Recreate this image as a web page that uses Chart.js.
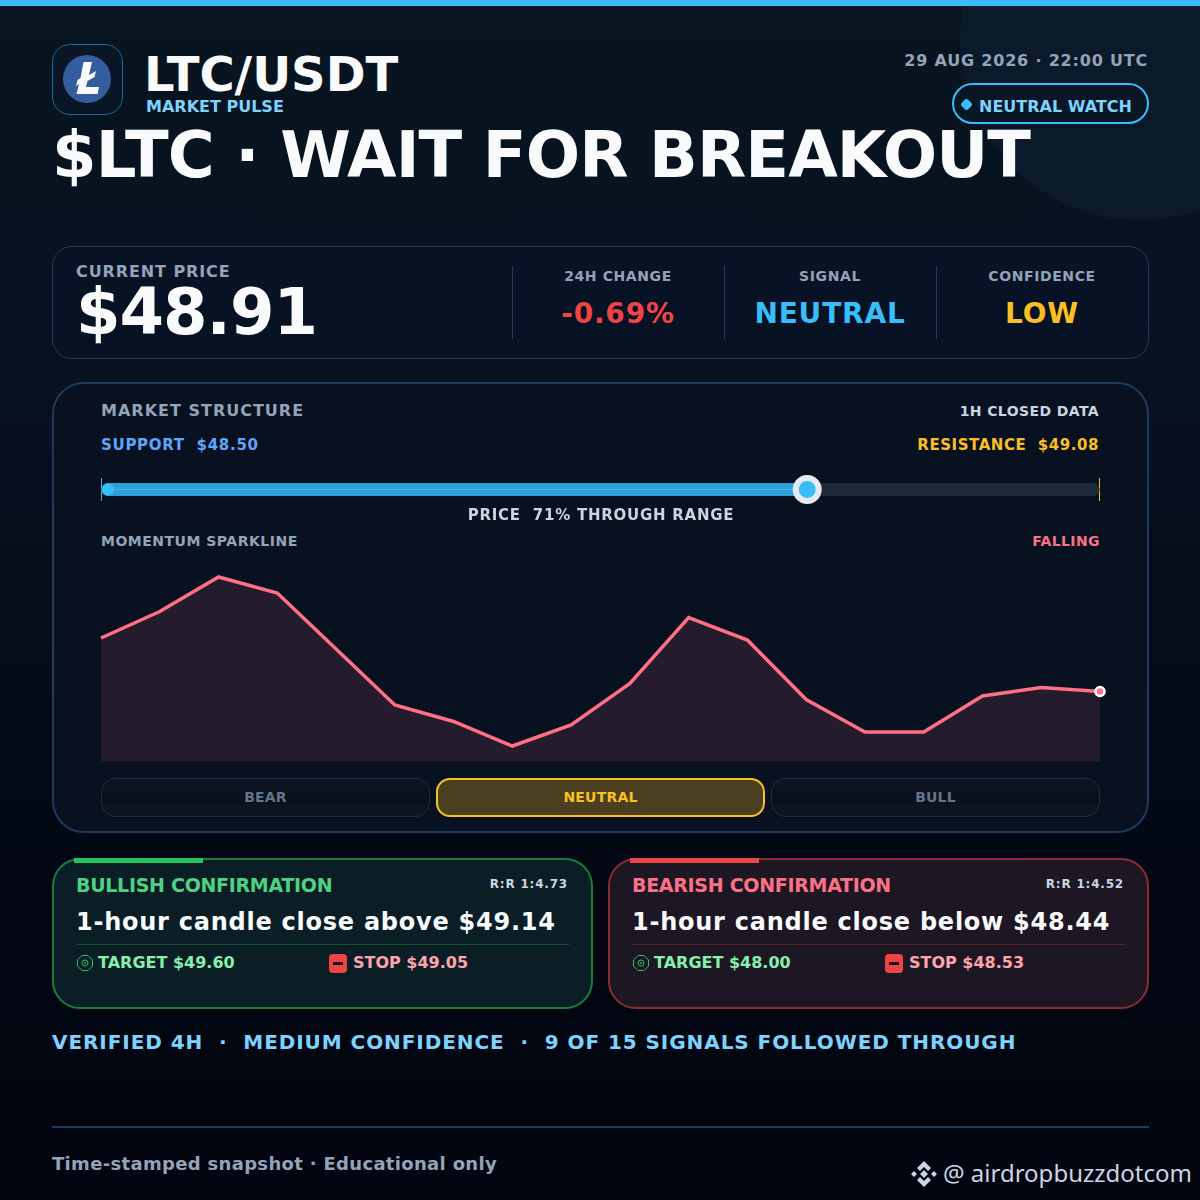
<!DOCTYPE html>
<html>
<head>
<meta charset="utf-8">
<title>LTC/USDT</title>
<script src="https://cdn.jsdelivr.net/npm/chart.js@4/dist/chart.umd.min.js"></script>
<style>
* { box-sizing: border-box; }
html, body { margin: 0; padding: 0; background: #02050f; }
#page { position: relative; width: 1200px; height: 1200px; overflow: hidden; font-family: "DejaVu Sans", sans-serif; font-weight: 700;
  background: linear-gradient(180deg, #081420 0%, #071220 30%, #030815 68%, #02050f 100%); }
#page > div, #page > canvas, .card > div { position: absolute; }
.t { white-space: pre; line-height: 1; }
.r { text-align: right; }
.c { text-align: center; transform: translateX(-50%); }
#topbar { left: 0; top: 0; width: 1200px; height: 6px; background: #38bdf8; }
#glow { left: 960px; top: -140px; width: 360px; height: 360px; border-radius: 50%; background: #0a1a2a; }
#logo { left: 52px; top: 44px; width: 71px; height: 71px; border-radius: 18px; border: 1px solid #1a6aa0; background: #0a1626; }
#coin { left: 63px; top: 55px; width: 48px; height: 48px; border-radius: 50%; background: #345d9d; }
#pill { left: 952px; top: 83px; width: 197px; height: 41px; border-radius: 21px; border: 2px solid #38bdf8; background: #081626; }
#pilldot { left: 962px; top: 100px; width: 9px; height: 9px; border-radius: 2px; background: #38bdf8; transform: rotate(45deg); }
.panel { border: 1px solid #1e3a5f; background: #071224; }
.sep { width: 1px; background: #1e3a5f; }
.btn { top: 778px; width: 329px; height: 39px; border-radius: 14px; border: 1px solid #1e293b; color: #64748b; font-size: 14px; letter-spacing: .2px; text-align: center; line-height: 37px;
  background: linear-gradient(180deg, #0e1322 0 33%, #0a101c 33% 67%, #0e1322 67%); }
.btn.on { border: 2px solid #fbbf24; background: #4a4020; color: #fbbf24; line-height: 35px; }
.card { top: 858px; width: 541px; height: 151px; border-radius: 28px; border: 2px solid; }
.accent { top: 858px; width: 129px; height: 5px; }
.target-i { width: 16px; height: 16px; top: 955px; }
.stop-i { width: 18px; height: 19px; top: 954px; background: #ef4444; border-radius: 4px; }
.stop-i::after { content: ""; position: absolute; left: 4px; top: 8px; width: 10px; height: 3px; background: #1a1020; }
</style>
</head>
<body>
<div id="page">
  <div id="glow"></div>
  <div id="topbar"></div>

  <div id="logo"></div>
  <div id="coin"></div>
  <svg style="position:absolute;left:63px;top:55px;" width="48" height="48" viewBox="63 55 48 48" fill="#f8fafc"><path d="M83.500 62H92L89 75l7-4-1.500 6-7 4-1.500 6H99l-1.500 7H76.500L79 84l-3 2 1.500-6 3-2z"/></svg>
  <div class="t" style="left:144px;top:50px;font-size:48px;color:#f8fafc;">LTC/USDT</div>
  <div class="t" style="left:146px;top:99px;font-size:16px;color:#7dd3fc;">MARKET PULSE</div>
  <div class="t" style="left:52px;top:123px;font-size:64px;letter-spacing:-.87px;color:#f8fafc;">$LTC · WAIT FOR BREAKOUT</div>
  <div class="t r" style="right:52px;top:53px;font-size:16px;letter-spacing:.8px;color:#94a3b8;">29 AUG 2026 · 22:00 UTC</div>
  <div id="pill"></div>
  <div id="pilldot"></div>
  <div class="t" style="left:979px;top:99px;font-size:16px;color:#7dd3fc;">NEUTRAL WATCH</div>

  <div class="panel" style="left:52px;top:246px;width:1097px;height:113px;border-radius:20px;"></div>
  <div class="t" style="left:76px;top:264px;font-size:16px;letter-spacing:.9px;color:#94a3b8;">CURRENT PRICE</div>
  <div class="t" style="left:76px;top:280px;font-size:64px;letter-spacing:-1px;color:#f8fafc;">$48.91</div>
  <div class="sep" style="left:512px;top:266px;height:73px;"></div>
  <div class="sep" style="left:724px;top:266px;height:73px;"></div>
  <div class="sep" style="left:936px;top:266px;height:73px;"></div>
  <div class="t c" style="left:618px;top:269px;font-size:14px;letter-spacing:.6px;color:#94a3b8;">24H CHANGE</div>
  <div class="t c" style="left:830px;top:269px;font-size:14px;letter-spacing:.6px;color:#94a3b8;">SIGNAL</div>
  <div class="t c" style="left:1042px;top:269px;font-size:14px;letter-spacing:.6px;color:#94a3b8;">CONFIDENCE</div>
  <div class="t c" style="left:618px;top:300px;font-size:28px;letter-spacing:.8px;color:#ef4444;">-0.69%</div>
  <div class="t c" style="left:830px;top:300px;font-size:28px;letter-spacing:.8px;color:#38bdf8;">NEUTRAL</div>
  <div class="t c" style="left:1042px;top:300px;font-size:28px;letter-spacing:.8px;color:#fbbf24;">LOW</div>

  <div class="panel" style="left:52px;top:382px;width:1097px;height:451px;border-radius:32px;border-width:2px;background:#071120;"></div>
  <div class="t" style="left:101px;top:403px;font-size:16px;letter-spacing:1px;color:#94a3b8;">MARKET STRUCTURE</div>
  <div class="t r" style="right:101px;top:404px;font-size:14px;letter-spacing:.4px;color:#cbd5e1;">1H CLOSED DATA</div>
  <div class="t" style="left:101px;top:438px;font-size:15px;letter-spacing:.7px;color:#60a5fa;">SUPPORT  $48.50</div>
  <div class="t r" style="right:101px;top:438px;font-size:15px;letter-spacing:.55px;color:#fbbf24;">RESISTANCE  $49.08</div>
  <canvas id="rangeChart" width="1019" height="41" style="left:91px;top:469px;"></canvas>
  <div class="t c" style="left:601px;top:508px;font-size:15px;letter-spacing:.75px;color:#cbd5e1;">PRICE  71% THROUGH RANGE</div>
  <div class="t" style="left:101px;top:534px;font-size:14px;letter-spacing:.5px;color:#94a3b8;">MOMENTUM SPARKLINE</div>
  <div class="t r" style="right:100px;top:534px;font-size:14px;letter-spacing:.4px;color:#fb7185;">FALLING</div>
  <canvas id="sparkChart" width="1019" height="190" style="left:91px;top:571px;"></canvas>
  <div class="btn" style="left:101px;">BEAR</div>
  <div class="btn on" style="left:436px;">NEUTRAL</div>
  <div class="btn" style="left:771px;">BULL</div>

  <div class="card" style="left:52px;border-color:#15803d;background:#0b1e26;"></div>
  <div class="accent" style="left:74px;background:#22c55e;"></div>
  <div class="t" style="left:76px;top:876px;font-size:19px;letter-spacing:-.3px;color:#4fd183;">BULLISH CONFIRMATION</div>
  <div class="t r" style="right:632px;top:878px;font-size:12px;letter-spacing:.8px;color:#cbd5e1;">R:R 1:4.73</div>
  <div class="t" style="left:76px;top:910px;font-size:24px;letter-spacing:.75px;color:#f8fafc;">1-hour candle close above $49.14</div>
  <div style="left:76px;top:944px;width:493px;height:1px;background:#14532d;"></div>
  <svg class="target-i" style="position:absolute;left:77px;" viewBox="0 0 16 16"><path d="M5 .5h6L15.500 5v6L11 15.500H5L.5 11V5z" fill="none" stroke="#22c55e"/><circle cx="8" cy="8" r="3" fill="none" stroke="#22c55e"/><circle cx="8" cy="8" r="1" fill="#22c55e"/></svg>
  <div class="t" style="left:98px;top:955px;font-size:16px;color:#86efac;">TARGET $49.60</div>
  <div class="stop-i" style="position:absolute;left:329px;"></div>
  <div class="t" style="left:353px;top:955px;font-size:16px;color:#fda4af;">STOP $49.05</div>

  <div class="card" style="left:608px;border-color:#8b2b33;background:#1d1623;"></div>
  <div class="accent" style="left:630px;background:#ef4444;"></div>
  <div class="t" style="left:632px;top:876px;font-size:19px;letter-spacing:-.3px;color:#fb7185;">BEARISH CONFIRMATION</div>
  <div class="t r" style="right:76px;top:878px;font-size:12px;letter-spacing:.8px;color:#cbd5e1;">R:R 1:4.52</div>
  <div class="t" style="left:632px;top:910px;font-size:24px;letter-spacing:.75px;color:#f8fafc;">1-hour candle close below $48.44</div>
  <div style="left:632px;top:944px;width:493px;height:1px;background:#5b2129;"></div>
  <svg class="target-i" style="position:absolute;left:633px;" viewBox="0 0 16 16"><path d="M5 .5h6L15.500 5v6L11 15.500H5L.5 11V5z" fill="none" stroke="#22c55e"/><circle cx="8" cy="8" r="3" fill="none" stroke="#22c55e"/><circle cx="8" cy="8" r="1" fill="#22c55e"/></svg>
  <div class="t" style="left:654px;top:955px;font-size:16px;color:#86efac;">TARGET $48.00</div>
  <div class="stop-i" style="position:absolute;left:885px;"></div>
  <div class="t" style="left:909px;top:955px;font-size:16px;color:#fda4af;">STOP $48.53</div>

  <div class="t" style="left:52px;top:1032px;font-size:20px;letter-spacing:.93px;color:#7dd3fc;">VERIFIED 4H  ·  MEDIUM CONFIDENCE  ·  9 OF 15 SIGNALS FOLLOWED THROUGH</div>
  <div style="left:52px;top:1126px;width:1097px;height:2px;background:#1e3a5f;"></div>
  <div class="t" style="left:52px;top:1155px;font-size:18px;letter-spacing:.32px;color:#94a3b8;">Time-stamped snapshot · Educational only</div>
  <svg style="position:absolute;left:910px;top:1160px;" width="28" height="28" viewBox="0 0 28 28" fill="#cbd5e1"><path d="M14 1l7 7-3 3-4-4-4 4-3-3zM14 27l7-7-3-3-4 4-4-4-3 3zM4 11l3 3-3 3-3-3zM24 11l3 3-3 3-3-3zM14 10l4 4-4 4-4-4z"/></svg>
  <div class="t" style="left:943px;top:1161px;font-family:'Noto Sans',sans-serif;font-weight:400;font-size:24px;color:#cbd5e1;">@ airdropbuzzdotcom</div>
</div>

<script>
// sparkline (height above the baseline)
const sparkLabels = ["1","2","3","4","5","6","7","8","9","10","11","12","13","14","15","16","17","18"];
const sparkValues = [123, 149.5, 184, 168, 112, 56, 39.5, 15, 36, 77.5, 143.5, 121, 61.5, 29, 29, 65, 73.5, 69.5];

// range bar prices
const supportPrice = 48.50;
const resistancePrice = 49.08;
const currentPrice = 48.91;

const sideGap = { left: 10, right: 10, top: 0, bottom: 0 };

new Chart(document.getElementById("sparkChart"), {
    type: "line",
    data: {
        labels: sparkLabels,
        datasets: [{
            data: sparkValues,
            borderColor: "#ff6f85",
            borderWidth: 3.5,
            backgroundColor: "#241c2c",
            fill: "origin",
            tension: 0,
            clip: false,
            pointRadius: ctx => ctx.dataIndex === sparkValues.length - 1 ? 4.5 : 0,
            pointBackgroundColor: "#ff6f85",
            pointBorderColor: "#ffffff",
            pointBorderWidth: 2.5
        }]
    },
    options: {
        responsive: false,
        animation: false,
        layout: { padding: sideGap, autoPadding: false },
        plugins: { legend: { display: false }, tooltip: { enabled: false } },
        scales: {
            x: { display: false },
            y: { display: false, min: 0, max: 190 }
        }
    }
});

const barLine = (x0, x1, color, width) => ({
    type: "line",
    data: [{ x: x0, y: 0 }, { x: x1, y: 0 }],
    borderColor: color,
    borderWidth: width,
    borderCapStyle: "round",
    clip: false,
    pointRadius: 0
});
const endTick = (x, color) => ({
    type: "line",
    data: [{ x: x, y: -0.56 }, { x: x, y: 0.56 }],
    borderColor: color,
    borderWidth: 1,
    clip: false,
    pointRadius: 0
});
const dot = (x, color, radius, ring, ringWidth) => ({
    type: "scatter",
    data: [{ x: x, y: 0 }],
    pointRadius: radius,
    pointBackgroundColor: color,
    pointBorderColor: ring,
    pointBorderWidth: ringWidth,
    clip: false
});

new Chart(document.getElementById("rangeChart"), {
    type: "scatter",
    data: {
        datasets: [
            dot(currentPrice, "#38bdf8", 11.5, "#e5e9f0", 6),
            dot(supportPrice + 0.004, "#38bdf8", 6, "#38bdf8", 0),
            barLine(supportPrice + 0.004, currentPrice, "#38bdf8", 1),
            barLine(supportPrice + 0.004, currentPrice, "#2f9fd8", 13),
            barLine(supportPrice + 0.004, resistancePrice - 0.004, "#1e293b", 13),
            endTick(supportPrice + 0.0003, "#60a5fa"),
            endTick(resistancePrice - 0.0003, "#fbbf24")
        ]
    },
    options: {
        responsive: false,
        animation: false,
        layout: { padding: sideGap, autoPadding: false },
        plugins: { legend: { display: false }, tooltip: { enabled: false } },
        scales: {
            x: { type: "linear", display: false, min: supportPrice, max: resistancePrice },
            y: { type: "linear", display: false, min: -1, max: 1 }
        }
    }
});
</script>
</body>
</html>
